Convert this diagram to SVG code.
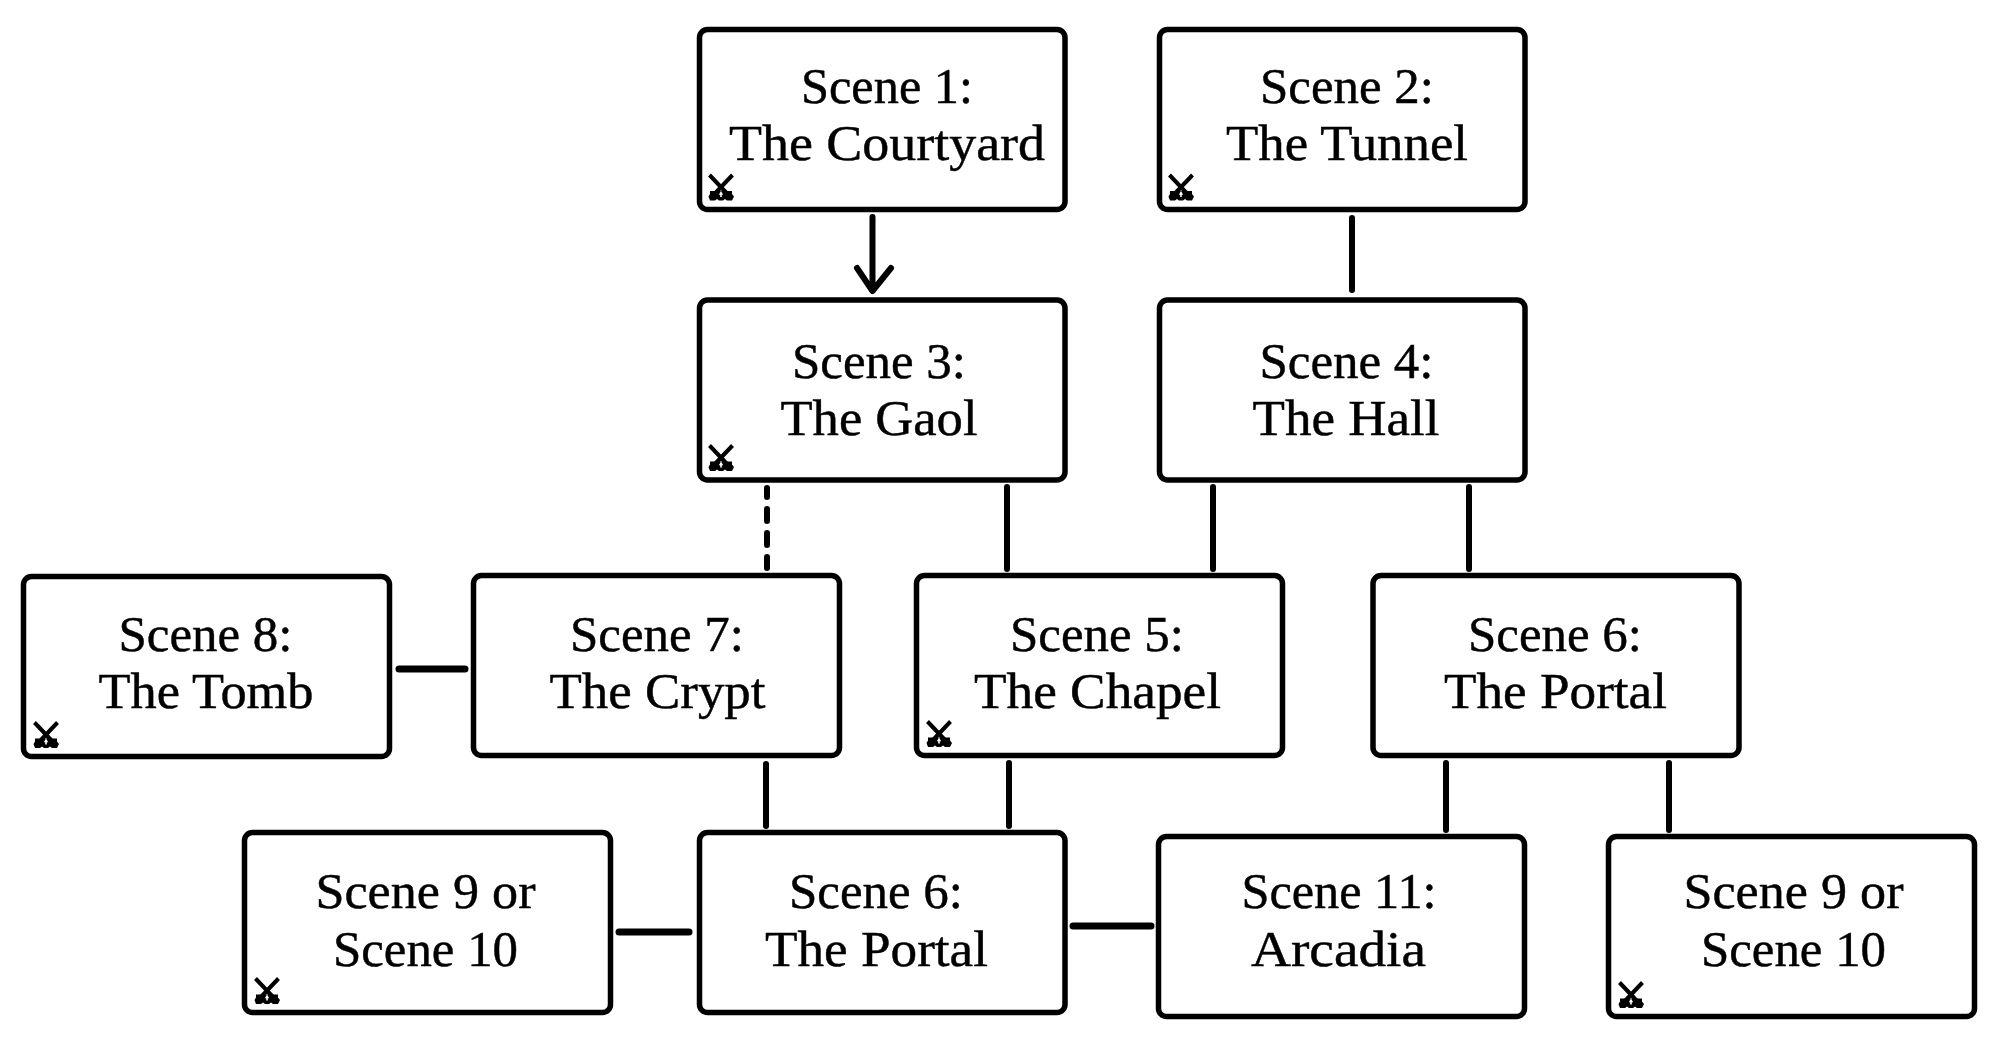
<svg xmlns="http://www.w3.org/2000/svg" width="2000" height="1050" viewBox="0 0 2000 1050">
<style>
.box{fill:#fff;stroke:#000;stroke-width:5.5}
.c{fill:none;stroke:#000;stroke-width:6;stroke-linecap:round;stroke-linejoin:round}
.h{stroke-width:7}
.d{stroke-dasharray:12 12;stroke-dashoffset:3}
text{font-family:"Liberation Serif",serif;font-size:50px;fill:#000;stroke:#000;stroke-width:.45;text-anchor:middle}
.ic{fill:none;stroke:#000}
</style>
<defs>
<g id="sw">
<path class="ic" stroke-width="4" d="M1.5 1.5L20 21M24.5 1.5L6 21"/>
<path d="M2 17.500H24V20.500L26 23L24 27H19L17 25.500L15 27H11L9 25.500L7 27H2L0.500 23L2 20.500Z" fill="#000"/>
<path d="M13 17.500L10.800 21.200H12.200V23.500H13.800V21.200H15.200Z" fill="#fff"/>
</g>
</defs>
<rect width="2000" height="1050" fill="#fff"/>
<g id="connectors">
<path class="c" d="M872.5 217V290M857 268L872.5 291L891 268"/>
<path class="c" d="M1352 218V290"/>
<path class="c d" d="M767 488V568"/>
<path class="c" d="M1007 487V569"/>
<path class="c" d="M1213 487V569"/>
<path class="c" d="M1469 487V569"/>
<path class="c h" d="M399 669H465"/>
<path class="c" d="M766 764V826"/>
<path class="c" d="M1009 763V826"/>
<path class="c" d="M1446 763V830"/>
<path class="c" d="M1669 763V830"/>
<path class="c h" d="M619 932H689"/>
<path class="c h" d="M1073 926H1151"/>
</g>
<g id="n1"><rect class="box" x="699.5" y="29.5" width="365.500" height="180" rx="8"/><text x="887" y="103" textLength="172" lengthAdjust="spacingAndGlyphs">Scene 1:</text><text x="887" y="160" textLength="316" lengthAdjust="spacingAndGlyphs">The Courtyard</text><use href="#sw" x="708" y="173.500"/></g>
<g id="n2"><rect class="box" x="1159.500" y="29.5" width="365.500" height="180" rx="8"/><text x="1347" y="103" textLength="174" lengthAdjust="spacingAndGlyphs">Scene 2:</text><text x="1347" y="160" textLength="242" lengthAdjust="spacingAndGlyphs">The Tunnel</text><use href="#sw" x="1168" y="173.500"/></g>
<g id="n3"><rect class="box" x="699.5" y="300" width="365.500" height="180" rx="8"/><text x="879" y="378" textLength="174" lengthAdjust="spacingAndGlyphs">Scene 3:</text><text x="879" y="435" textLength="197" lengthAdjust="spacingAndGlyphs">The Gaol</text><use href="#sw" x="708" y="444"/></g>
<g id="n4"><rect class="box" x="1159.500" y="300" width="365.500" height="180" rx="8"/><text x="1346.500" y="378" textLength="174" lengthAdjust="spacingAndGlyphs">Scene 4:</text><text x="1346" y="435" textLength="187" lengthAdjust="spacingAndGlyphs">The Hall</text></g>
<g id="n8"><rect class="box" x="23.5" y="576.500" width="366" height="180" rx="8"/><text x="205.500" y="651" textLength="174" lengthAdjust="spacingAndGlyphs">Scene 8:</text><text x="206" y="708" textLength="215" lengthAdjust="spacingAndGlyphs">The Tomb</text><use href="#sw" x="33" y="721"/></g>
<g id="n7"><rect class="box" x="473.500" y="575.500" width="366" height="180" rx="8"/><text x="657" y="651" textLength="174" lengthAdjust="spacingAndGlyphs">Scene 7:</text><text x="657.500" y="708" textLength="216" lengthAdjust="spacingAndGlyphs">The Crypt</text></g>
<g id="n5"><rect class="box" x="916.500" y="575.500" width="366" height="180" rx="8"/><text x="1097" y="651" textLength="174" lengthAdjust="spacingAndGlyphs">Scene 5:</text><text x="1097.500" y="708" textLength="247" lengthAdjust="spacingAndGlyphs">The Chapel</text><use href="#sw" x="926" y="720"/></g>
<g id="n6a"><rect class="box" x="1373" y="575.500" width="366" height="180" rx="8"/><text x="1555" y="651" textLength="174" lengthAdjust="spacingAndGlyphs">Scene 6:</text><text x="1555.500" y="708" textLength="223" lengthAdjust="spacingAndGlyphs">The Portal</text></g>
<g id="n9a"><rect class="box" x="244.500" y="832.500" width="366" height="180" rx="8"/><text x="425.500" y="908" textLength="220" lengthAdjust="spacingAndGlyphs">Scene 9 or</text><text x="425.500" y="966" textLength="185" lengthAdjust="spacingAndGlyphs">Scene 10</text><use href="#sw" x="254" y="977"/></g>
<g id="n6b"><rect class="box" x="699.5" y="832.500" width="365.500" height="180" rx="8"/><text x="876" y="908" textLength="174" lengthAdjust="spacingAndGlyphs">Scene 6:</text><text x="876.500" y="966" textLength="223" lengthAdjust="spacingAndGlyphs">The Portal</text></g>
<g id="n11"><rect class="box" x="1158.500" y="836.500" width="366" height="180" rx="8"/><text x="1339" y="908" textLength="195" lengthAdjust="spacingAndGlyphs">Scene 11:</text><text x="1338.500" y="966" textLength="175" lengthAdjust="spacingAndGlyphs">Arcadia</text></g>
<g id="n9b"><rect class="box" x="1608.500" y="836.500" width="366" height="180" rx="8"/><text x="1793.500" y="908" textLength="220" lengthAdjust="spacingAndGlyphs">Scene 9 or</text><text x="1793.500" y="966" textLength="185" lengthAdjust="spacingAndGlyphs">Scene 10</text><use href="#sw" x="1618" y="981"/></g>
</svg>
